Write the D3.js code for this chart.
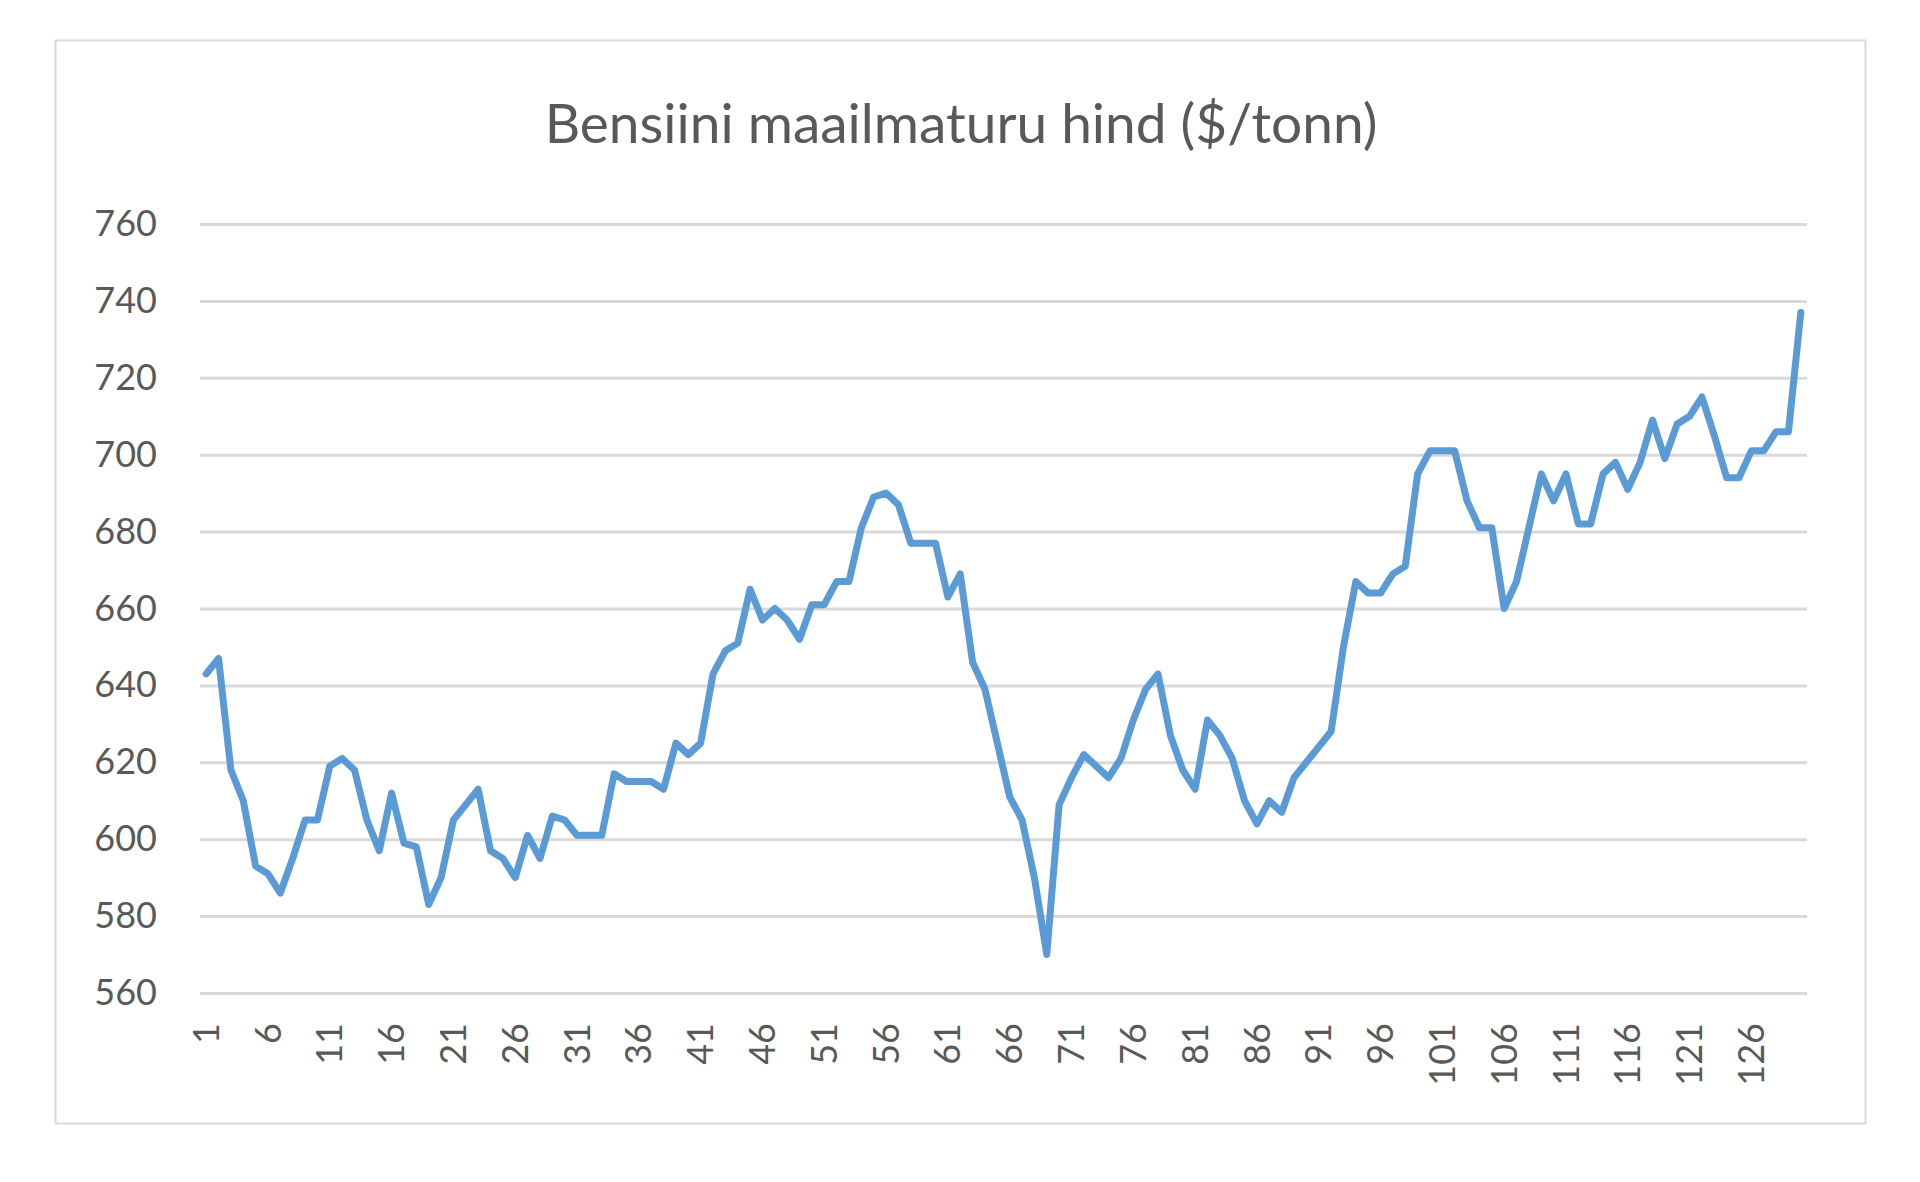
<!DOCTYPE html>
<html>
<head>
<meta charset="utf-8">
<script src="https://cdn.jsdelivr.net/npm/d3@7"></script>
<style>
  body { margin: 0; background: #fff; }
  text { font-family: Lato, "Open Sans", sans-serif; fill: #595959; }
</style>
</head>
<body>
<div id="chart"></div>
<script>
// Gasoline world market price, one value per period
let prices = [
  643, 647, 618, 610, 593, 591, 586, 595, 605, 605,
  619, 621, 618, 605, 597, 612, 599, 598, 583, 590,
  605, 609, 613, 597, 595, 590, 601, 595, 606, 605,
  601, 601, 601, 617, 615, 615, 615, 613, 625, 622,
  625, 643, 649, 651, 665, 657, 660, 657, 652, 661,
  661, 667, 667, 681, 689, 690, 687, 677, 677, 677,
  663, 669, 646, 639, 625, 611, 605, 590, 570, 609,
  616, 622, 619, 616, 621, 631, 639, 643, 627, 618,
  613, 631, 627, 621, 610, 604, 610, 607, 616, 620,
  624, 628, 650, 667, 664, 664, 669, 671, 695, 701,
  701, 701, 688, 681, 681, 660, 667, 681, 695, 688,
  695, 682, 682, 695, 698, 691, 698, 709, 699, 708,
  710, 715, 705, 694, 694, 701, 701, 706, 706, 737
];
let categories = prices.map((d, i) => i + 1);
let yTicks = [560, 580, 600, 620, 640, 660, 680, 700, 720, 740, 760];
let title = "Bensiini maailmaturu hind ($/tonn)";

let svgWidth = 1920;
let svgHeight = 1182;
let margin = { top: 224, right: 113, bottom: 189, left: 200 };
let width = svgWidth - margin.left - margin.right;
let height = svgHeight - margin.top - margin.bottom;

let svg = d3.select("#chart")
    .append("svg")
    .attr("width", svgWidth)
    .attr("height", svgHeight);

// chart frame
svg.append("rect")
    .attr("x", 55.5).attr("y", 40.5)
    .attr("width", 1810).attr("height", 1083)
    .attr("fill", "#fff")
    .attr("stroke", "#d9d9d9")
    .attr("stroke-width", 2);

svg.append("text")
    .attr("x", 961)
    .attr("y", 143)
    .attr("text-anchor", "middle")
    .attr("font-size", "55px")
    .text(title);

let chartGroup = svg.append("g")
    .attr("transform", `translate(${margin.left}, ${margin.top})`);

let xScale = d3.scaleBand()
    .domain(categories)
    .range([0, width]);

let yScale = d3.scaleLinear()
    .domain([560, 760])
    .range([height, 0]);

// gridlines + y labels
let yAxis = chartGroup.append("g")
    .call(d3.axisLeft(yScale).tickValues(yTicks).tickSize(-width).tickPadding(43));
yAxis.select(".domain").remove();
yAxis.selectAll(".tick line").attr("stroke", "#d9d9d9").attr("stroke-width", 3);
yAxis.selectAll(".tick text")
    .attr("font-size", "36px")
    .attr("fill", "#595959")
    .attr("font-family", "Lato, 'Open Sans', sans-serif");

// x labels, every 5th category, rotated
let xAxis = chartGroup.append("g")
    .attr("transform", `translate(0, ${height})`)
    .call(d3.axisBottom(xScale)
        .tickValues(categories.filter(d => (d - 1) % 5 === 0))
        .tickSize(0));
xAxis.select(".domain").remove();
xAxis.selectAll(".tick text")
    .attr("font-size", "36px")
    .attr("fill", "#595959")
    .attr("font-family", "Lato, 'Open Sans', sans-serif")
    .attr("text-anchor", "end")
    .attr("dy", "0.35em")
    .attr("transform", "translate(0, 30) rotate(-90)")
    .attr("x", 0).attr("y", 0);

let line = d3.line()
    .x((d, i) => xScale(categories[i]) + xScale.bandwidth() / 2)
    .y(d => yScale(d));

chartGroup.append("path")
    .datum(prices)
    .attr("d", line)
    .attr("fill", "none")
    .attr("stroke", "#5b9bd5")
    .attr("stroke-width", 7)
    .attr("stroke-linejoin", "round")
    .attr("stroke-linecap", "round");
</script>
</body>
</html>
